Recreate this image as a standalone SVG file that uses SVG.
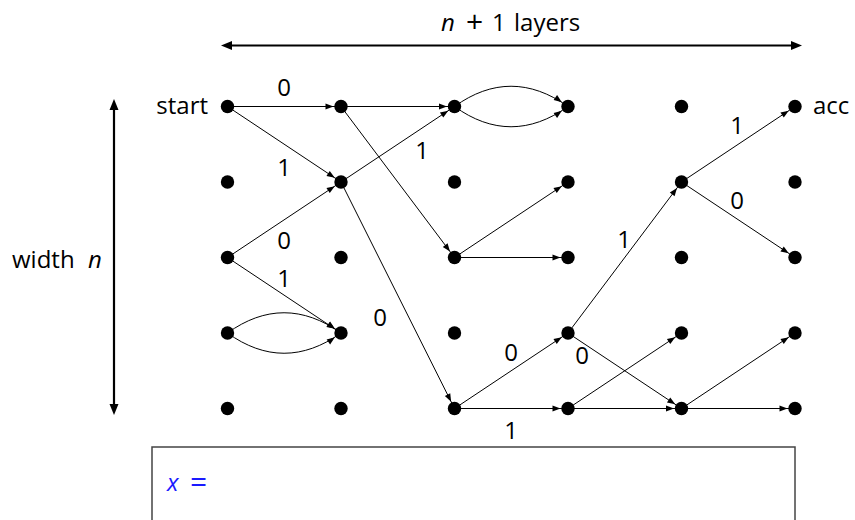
<svg xmlns="http://www.w3.org/2000/svg" width="855" height="520" viewBox="0 0 855 520">
<style>
text{font-family:"Open Sans","Liberation Sans",Arial,sans-serif;font-size:24px;fill:#000}
.lbl{text-anchor:middle}
.it{font-style:italic}
.sym{font-size:30px}
.e{fill:none;stroke:#000;stroke-width:1;marker-end:url(#ah)}
.dim{fill:none;stroke:#000;stroke-width:2.2;marker-start:url(#dh);marker-end:url(#dh)}
.dot{fill:#000}
</style>
<defs>
<marker id="ah" markerUnits="userSpaceOnUse" markerWidth="8" markerHeight="6" refX="15.5" refY="3" orient="auto" overflow="visible">
<path d="M0,0 L8,3 L0,6 z" fill="#000"/>
</marker>
<marker id="dh" markerUnits="userSpaceOnUse" markerWidth="11" markerHeight="9" refX="6" refY="4.5" orient="auto-start-reverse" overflow="visible">
<path d="M0,0 L11,4.5 L0,9 z" fill="#000"/>
</marker>
</defs>

<g id="dimensions">
<path class="dim" d="M226,45.5 L797,45.5"/>
<text x="441" y="31" class="it">n</text>
<text x="466" y="32" class="sym">+</text>
<text x="492" y="31">1</text>
<text x="514" y="31">layers</text>
<path class="dim" d="M114,104 L114,410"/>
<text x="12" y="268">width</text>
<text x="88" y="268" class="it">n</text>
</g>

<g id="connectors">
<path class="e" d="M227.5,106.5 L341,106.5"/>
<path class="e" d="M227.5,106.5 L341,182"/>
<path class="e" d="M341,106.5 L454.5,106.5"/>
<path class="e" d="M341,106.5 L454.5,257.5"/>
<path class="e" d="M341,182 L454.5,106.5"/>
<path class="e" d="M341,182 L454.5,408.5"/>
<path class="e" d="M227.5,257.5 L341,182"/>
<path class="e" d="M227.5,257.5 L341,333"/>
<path class="e" d="M227.5,333 C265,306 303,306 341,333"/>
<path class="e" d="M227.5,333 C265,360 303,360 341,333"/>
<path class="e" d="M454.5,106.5 C492,79.5 530,79.5 568,106.5"/>
<path class="e" d="M454.5,106.5 C492,133.5 530,133.5 568,106.5"/>
<path class="e" d="M454.5,257.5 L568,182"/>
<path class="e" d="M454.5,257.5 L568,257.5"/>
<path class="e" d="M454.5,408.5 L568,333"/>
<path class="e" d="M454.5,408.5 L568,408.5"/>
<path class="e" d="M568,333 L681.5,182"/>
<path class="e" d="M568,333 L681.5,408.5"/>
<path class="e" d="M568,408.5 L681.5,333"/>
<path class="e" d="M568,408.5 L681.5,408.5"/>
<path class="e" d="M681.5,182 L795,106.5"/>
<path class="e" d="M681.5,182 L795,257.5"/>
<path class="e" d="M681.5,408.5 L795,333"/>
<path class="e" d="M681.5,408.5 L795,408.5"/>
</g>

<g id="edge-labels">
<text class="lbl" x="284" y="96">0</text>
<text class="lbl" x="284" y="176">1</text>
<text class="lbl" x="422" y="159">1</text>
<text class="lbl" x="284" y="249">0</text>
<text class="lbl" x="284" y="287">1</text>
<text class="lbl" x="380" y="326">0</text>
<text class="lbl" x="511" y="361">0</text>
<text class="lbl" x="511" y="439">1</text>
<text class="lbl" x="582" y="364">0</text>
<text class="lbl" x="624" y="248">1</text>
<text class="lbl" x="737" y="134">1</text>
<text class="lbl" x="737" y="209">0</text>
</g>

<g id="n0-0"><circle class="dot" cx="227.5" cy="106.5" r="6.7"/><text x="208" y="114" text-anchor="end">start</text></g>
<g id="n1-0"><circle class="dot" cx="341" cy="106.5" r="6.7"/></g>
<g id="n2-0"><circle class="dot" cx="454.5" cy="106.5" r="6.7"/></g>
<g id="n3-0"><circle class="dot" cx="568" cy="106.5" r="6.7"/></g>
<g id="n4-0"><circle class="dot" cx="681.5" cy="106.5" r="6.7"/></g>
<g id="n5-0"><circle class="dot" cx="795" cy="106.5" r="6.7"/><text x="813" y="114">acc</text></g>

<g id="n0-1"><circle class="dot" cx="227.5" cy="182" r="6.7"/></g>
<g id="n1-1"><circle class="dot" cx="341" cy="182" r="6.7"/></g>
<g id="n2-1"><circle class="dot" cx="454.5" cy="182" r="6.7"/></g>
<g id="n3-1"><circle class="dot" cx="568" cy="182" r="6.7"/></g>
<g id="n4-1"><circle class="dot" cx="681.5" cy="182" r="6.7"/></g>
<g id="n5-1"><circle class="dot" cx="795" cy="182" r="6.7"/></g>

<g id="n0-2"><circle class="dot" cx="227.5" cy="257.5" r="6.7"/></g>
<g id="n1-2"><circle class="dot" cx="341" cy="257.5" r="6.7"/></g>
<g id="n2-2"><circle class="dot" cx="454.5" cy="257.5" r="6.7"/></g>
<g id="n3-2"><circle class="dot" cx="568" cy="257.5" r="6.7"/></g>
<g id="n4-2"><circle class="dot" cx="681.5" cy="257.5" r="6.7"/></g>
<g id="n5-2"><circle class="dot" cx="795" cy="257.5" r="6.7"/></g>

<g id="n0-3"><circle class="dot" cx="227.5" cy="333" r="6.7"/></g>
<g id="n1-3"><circle class="dot" cx="341" cy="333" r="6.7"/></g>
<g id="n2-3"><circle class="dot" cx="454.5" cy="333" r="6.7"/></g>
<g id="n3-3"><circle class="dot" cx="568" cy="333" r="6.7"/></g>
<g id="n4-3"><circle class="dot" cx="681.5" cy="333" r="6.7"/></g>
<g id="n5-3"><circle class="dot" cx="795" cy="333" r="6.7"/></g>

<g id="n0-4"><circle class="dot" cx="227.5" cy="408.5" r="6.7"/></g>
<g id="n1-4"><circle class="dot" cx="341" cy="408.5" r="6.7"/></g>
<g id="n2-4"><circle class="dot" cx="454.5" cy="408.5" r="6.7"/></g>
<g id="n3-4"><circle class="dot" cx="568" cy="408.5" r="6.7"/></g>
<g id="n4-4"><circle class="dot" cx="681.5" cy="408.5" r="6.7"/></g>
<g id="n5-4"><circle class="dot" cx="795" cy="408.5" r="6.7"/></g>

<g id="input-box">
<rect x="152" y="447" width="643" height="90" fill="#fff" stroke="#444" stroke-width="1.5"/>
<text x="167" y="491" class="it" style="fill:#1a1aff">x</text>
<text x="190" y="492" class="sym" style="fill:#1a1aff">=</text>
</g>
</svg>
